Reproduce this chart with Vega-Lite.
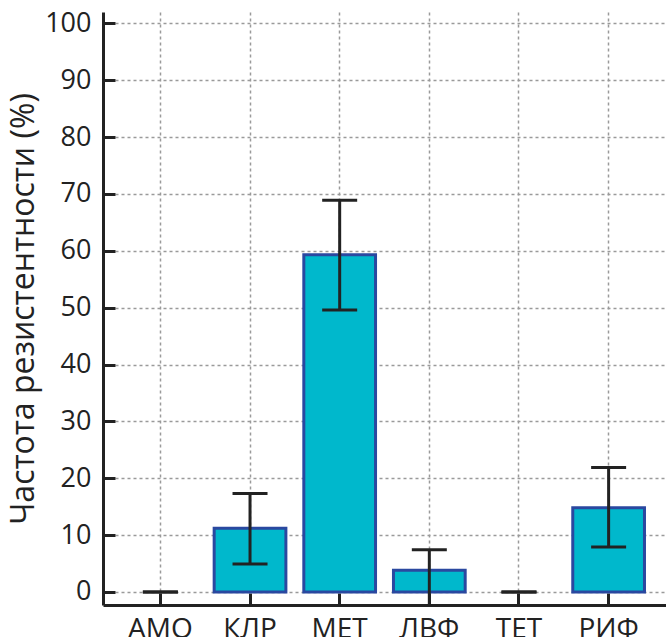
{
  "$schema": "https://vega.github.io/schema/vega-lite/v6.json",
  "autosize": {"type": "none"},
  "width": 563,
  "height": 593,
  "padding": {"left": 103, "top": 12, "right": 0, "bottom": 32},
  "background": "white",
  "config": {
    "view": {"stroke": null},
    "font": "Open Sans"
  },
  "data": {
    "values": [
      {"drug": "АМО", "v": 0, "lo": 0, "hi": 0},
      {"drug": "КЛР", "v": 11.2, "lo": 4.9, "hi": 17.3},
      {"drug": "МЕТ", "v": 59.3, "lo": 49.6, "hi": 68.9},
      {"drug": "ЛВФ", "v": 3.8, "lo": -3.6, "hi": 7.4},
      {"drug": "ТЕТ", "v": 0, "lo": 0, "hi": 0},
      {"drug": "РИФ", "v": 14.8, "lo": 7.9, "hi": 21.9}
    ]
  },
  "encoding": {
    "x": {
      "field": "drug",
      "type": "nominal",
      "sort": null,
      "scale": {"domain": ["АМО", "КЛР", "МЕТ", "ЛВФ", "ТЕТ", "РИФ"], "paddingInner": 0.2, "paddingOuter": 0.24},
      "axis": {
        "title": null,
        "labelAngle": 0,
        "labelFont": "Open Sans",
        "labelFontSize": 28,
        "labelColor": "#222",
        "labelPadding": 22,
        "bandPosition": 0.5,
        "domainColor": "#222",
        "domainWidth": 3,
        "tickColor": "#222",
        "tickWidth": 3,
        "tickSize": -12,
        "grid": true,
        "gridColor": "#9a9a9a",
        "gridDash": [3, 3],
        "gridWidth": 1.5
      }
    }
  },
  "layer": [
    {
      "transform": [{"filter": "datum.v > 0"}],
      "mark": {"type": "bar", "fill": "#00b8cc", "stroke": "#2a48a0", "strokeWidth": 3, "clip": true},
      "encoding": {
        "y": {
          "field": "v",
          "type": "quantitative",
          "scale": {"domain": [-2.3, 102], "nice": false, "zero": false},
          "axis": {
            "title": "Частота резистентности (%)",
            "titleFont": "Open Sans",
            "titleFontSize": 32,
            "titleFontWeight": "normal",
            "titleColor": "#222",
            "titlePadding": 4,
            "values": [0, 5, 10, 15, 20, 25, 30, 35, 40, 45, 50, 55, 60, 65, 70, 75, 80, 85, 90, 95, 100],
            "labelExpr": "datum.value % 10 === 0 ? datum.label : ''",
            "labelFont": "Open Sans",
            "labelFontSize": 27,
            "labelColor": "#222",
            "labelPadding": 24,
            "domainColor": "#222",
            "domainWidth": 3,
            "tickColor": "#222",
            "tickWidth": 3,
            "tickSize": {"condition": {"test": "datum.value % 10 === 0", "value": -12}, "value": -6},
            "grid": true,
            "gridColor": "#9a9a9a",
            "gridDash": [3, 3],
            "gridWidth": 1.5,
            "gridOpacity": {"condition": {"test": "datum.value % 10 === 0", "value": 1}, "value": 0}
          }
        }
      }
    },
    {
      "mark": {"type": "rule", "stroke": "#222", "strokeWidth": 3, "clip": true},
      "encoding": {
        "y": {"field": "lo", "type": "quantitative"},
        "y2": {"field": "hi"}
      }
    },
    {
      "mark": {"type": "tick", "color": "#222", "size": 35, "thickness": 3, "opacity": 1, "clip": true},
      "encoding": {"y": {"field": "lo", "type": "quantitative"}}
    },
    {
      "mark": {"type": "tick", "color": "#222", "size": 35, "thickness": 3, "opacity": 1, "clip": true},
      "encoding": {"y": {"field": "hi", "type": "quantitative"}}
    }
  ]
}
